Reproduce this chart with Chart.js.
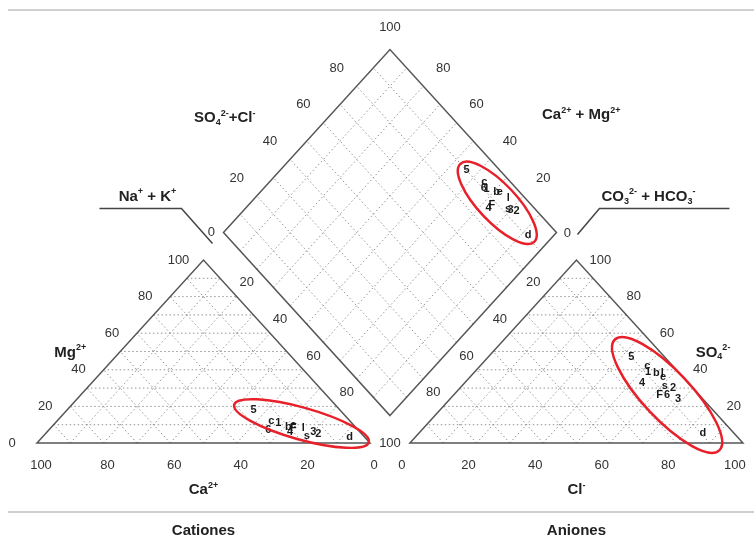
<!DOCTYPE html>
<html>
<head>
<meta charset="utf-8">
<script src="https://cdn.jsdelivr.net/npm/chart.js@4.4.0/dist/chart.umd.min.js"></script>
<style>
  html, body { margin: 0; padding: 0; background: #fff; }
  #wrap { width: 754px; height: 541px; position: relative; }
</style>
</head>
<body>
<div id="wrap"><canvas id="piper"></canvas></div>
<script>
// Sample labels (drawn as the marker of each sample)
const sampleIds = ["5", "c", "1", "l", "4", "6", "F", "s", "2", "3", "b", "e", "d"];

// Cations, % meq
const ca  = [26, 23.6, 22, 16, 21, 27, 19, 17, 13, 14, 20, 18, 4.5];
const mg  = [18, 12, 11, 8, 6, 7, 8, 4, 5, 6, 9, 10, 3.3];
const naK = [56, 64.4, 67, 76, 73, 66, 73, 79, 82, 80, 71, 72, 92.2];

// Anions, % meq
const hco3 = [10, 7.7, 9, 5, 13.8, 9.6, 11.8, 8, 6, 7.5, 7, 6, 9.3];
const so4  = [47, 42, 39, 38.5, 33, 26.4, 26.4, 31, 30, 24, 38, 36, 5.5];
const cl   = [43, 50.3, 52, 56.5, 53.2, 64, 61.8, 61, 64, 68.5, 55, 58, 85.2];

// Tick labels
const ticks = [0, 20, 40, 60, 80, 100];

// Piper layout in chart units (triangle side = 100)
const GAP = 12;          // between the two triangles
const R0 = 100 + GAP;    // x start of the anion triangle
const DB = 15;           // height of diamond's lower vertex
const DX = 100 + GAP / 2; // x of diamond's lower vertex

const catXY = (c, m, n) => ({ x: n + m / 2, y: m });
const anXY = (h, s, c) => ({ x: R0 + c + s / 2, y: s });
// a = SO4+Cl, c = Ca+Mg
const diaXY = (a, c) => ({ x: DX + 0.5 * a - 0.5 * c, y: DB + a + c });

const catPts = sampleIds.map((id, i) => catXY(ca[i], mg[i], naK[i]));
const anPts = sampleIds.map((id, i) => anXY(hco3[i], so4[i], cl[i]));
const diaPts = sampleIds.map((id, i) => diaXY(so4[i] + cl[i], ca[i] + mg[i]));

const FONT = '"Liberation Sans", Arial, Helvetica, sans-serif';

function richText(ctx, parts, x, y, size, align) {
  // parts: [text, mode] with mode "n", "sup" or "sub"
  const big = "bold " + size + "px " + FONT;
  const small = "bold " + Math.round(size * 0.62) + "px " + FONT;
  let w = 0;
  parts.forEach(p => { ctx.font = p[1] === "n" ? big : small; w += ctx.measureText(p[0]).width; });
  let cx = align === "left" ? x : x - w / 2;
  ctx.textAlign = "left";
  ctx.textBaseline = "middle";
  parts.forEach(p => {
    ctx.font = p[1] === "n" ? big : small;
    let dy = 0;
    if (p[1] === "sup") dy = -size * 0.32;
    if (p[1] === "sub") dy = size * 0.3;
    ctx.fillText(p[0], cx, y + dy);
    cx += ctx.measureText(p[0]).width;
  });
}

const piperFrame = {
  id: "piperFrame",
  beforeDatasetsDraw(chart) {
    const ctx = chart.ctx;
    const xs = chart.scales.x, ys = chart.scales.y;
    const P = (x, y) => [xs.getPixelForValue(x), ys.getPixelForValue(y)];
    const line = (a, b) => {
      const p = P(a.x, a.y), q = P(b.x, b.y);
      ctx.beginPath(); ctx.moveTo(p[0], p[1]); ctx.lineTo(q[0], q[1]); ctx.stroke();
    };
    const poly = pts => {
      ctx.beginPath();
      pts.forEach((pt, i) => { const p = P(pt.x, pt.y); i ? ctx.lineTo(p[0], p[1]) : ctx.moveTo(p[0], p[1]); });
      ctx.closePath(); ctx.stroke();
    };

    ctx.save();
    // separator rules
    ctx.strokeStyle = "#d0d0d0";
    ctx.lineWidth = 2;
    ctx.beginPath(); ctx.moveTo(8, 10); ctx.lineTo(754, 10); ctx.stroke();
    ctx.beginPath(); ctx.moveTo(8, 512); ctx.lineTo(754, 512); ctx.stroke();

    // dotted grid
    ctx.strokeStyle = "#8a8a8a";
    ctx.lineWidth = 0.9;
    ctx.setLineDash([1.5, 2.5]);
    for (let v = 10; v < 100; v += 10) {
      const w = 100 - v;
      // cation triangle
      line(catXY(0, v, 0), catXY(0, v, w));
      line(catXY(w, 0, v), catXY(0, w, v));
      line(catXY(v, 0, w), catXY(v, w, 0));
      // anion triangle
      line(anXY(0, v, w), anXY(w, v, 0));
      line(anXY(w, 0, v), anXY(0, w, v));
      line(anXY(v, 0, w), anXY(v, w, 0));
      // diamond
      line(diaXY(v, 0), diaXY(v, 100));
      line(diaXY(0, v), diaXY(100, v));
    }
    ctx.setLineDash([]);

    // outlines
    ctx.strokeStyle = "#555";
    ctx.lineWidth = 1.5;
    poly([catXY(100, 0, 0), catXY(0, 0, 100), catXY(0, 100, 0)]);
    poly([anXY(100, 0, 0), anXY(0, 0, 100), anXY(0, 100, 0)]);
    poly([diaXY(0, 0), diaXY(100, 0), diaXY(100, 100), diaXY(0, 100)]);

    // tick labels
    ctx.fillStyle = "#333";
    ctx.font = "13px " + FONT;
    ctx.textAlign = "center";
    ctx.textBaseline = "middle";
    const txt = (t, pt, dx, dy) => { const p = P(pt.x, pt.y); ctx.fillText(String(t), p[0] + dx, p[1] + dy); };
    ticks.forEach(v => {
      txt(v, catXY(v, 0, 100 - v), 4, 22);                  // Ca2+
      txt(v, catXY(100 - v, v, 0), -25, 0);                  // Mg2+
      txt(v, anXY(100 - v, 0, v), -8, 22);                   // Cl-
      txt(v, anXY(0, v, 100 - v), 24, 0);                    // SO4 2-
      if (v > 0 && v < 100) {
        const a = catXY(0, 100 - v, v), b = diaXY(0, 100 - v);   // Na+ + K+
        txt(v, { x: (a.x + b.x) / 2, y: (a.y + b.y) / 2 }, 0, 0);
        const c = anXY(v, 100 - v, 0), d = diaXY(100 - v, 0);    // CO3 + HCO3
        txt(v, { x: (c.x + d.x) / 2, y: (c.y + d.y) / 2 }, 0, 0);
        txt(v, diaXY(v, 100), -20, -18);                     // SO4 + Cl
        txt(v, diaXY(100, v), 20, -18);                      // Ca + Mg
      }
    });
    txt(100, diaXY(100, 100), 0, -22);
    txt(0, diaXY(0, 100), -12, 0);
    txt(0, diaXY(100, 0), 11, 1);
    txt(100, { x: DX, y: 0 }, 0, 0);

    // leader lines for the diamond titles
    const L = P(diaXY(0, 100).x, diaXY(0, 100).y);
    const Rt = P(diaXY(100, 0).x, diaXY(100, 0).y);
    ctx.strokeStyle = "#444";
    ctx.lineWidth = 1.5;
    ctx.beginPath();
    ctx.moveTo(L[0] - 124, L[1] - 24); ctx.lineTo(L[0] - 42, L[1] - 24); ctx.lineTo(L[0] - 11, L[1] + 11);
    ctx.stroke();
    ctx.beginPath();
    ctx.moveTo(Rt[0] + 173, Rt[1] - 24); ctx.lineTo(Rt[0] + 43, Rt[1] - 24); ctx.lineTo(Rt[0] + 21, Rt[1] + 2);
    ctx.stroke();

    // axis titles
    ctx.fillStyle = "#222";
    const at = (pt, dx, dy) => { const p = P(pt.x, pt.y); return [p[0] + dx, p[1] + dy]; };
    let q;
    q = at(diaXY(50, 100), -82, -23);
    richText(ctx, [["SO", "n"], ["4", "sub"], ["2-", "sup"], ["+Cl", "n"], ["-", "sup"]], q[0], q[1], 15, "center");
    q = at(diaXY(100, 50), 108, -26);
    richText(ctx, [["Ca", "n"], ["2+", "sup"], [" + Mg", "n"], ["2+", "sup"]], q[0], q[1], 15, "center");
    richText(ctx, [["Na", "n"], ["+", "sup"], [" + K", "n"], ["+", "sup"]], L[0] - 76, L[1] - 36, 15, "center");
    richText(ctx, [["CO", "n"], ["3", "sub"], ["2-", "sup"], [" + HCO", "n"], ["3", "sub"], ["-", "sup"]], Rt[0] + 45, Rt[1] - 36, 15, "left");
    q = at(catXY(50, 50, 0), -50, 1);
    richText(ctx, [["Mg", "n"], ["2+", "sup"]], q[0], q[1], 15, "center");
    q = at(catXY(50, 0, 50), 0, 47);
    richText(ctx, [["Ca", "n"], ["2+", "sup"]], q[0], q[1], 15, "center");
    q = at(anXY(0, 50, 50), 36, 1);
    richText(ctx, [["SO", "n"], ["4", "sub"], ["2-", "sup"]], q[0], q[1], 15, "left");
    q = at(anXY(50, 0, 50), 0, 47);
    richText(ctx, [["Cl", "n"], ["-", "sup"]], q[0], q[1], 15, "center");
    q = at(catXY(50, 0, 50), 0, 88);
    richText(ctx, [["Cationes", "n"]], q[0], q[1], 15, "center");
    q = at(anXY(50, 0, 50), 0, 88);
    richText(ctx, [["Aniones", "n"]], q[0], q[1], 15, "center");
    ctx.restore();
  },
  afterDatasetsDraw(chart) {
    const ctx = chart.ctx;
    ctx.save();
    const ellipse = [[20, 16], [24, 24], [9, 19]];
    chart.data.datasets.forEach((ds, di) => {
      const els = chart.getDatasetMeta(di).data;
      ctx.fillStyle = "#1a1a1a";
      ctx.font = "bold 11px " + FONT;
      ctx.textAlign = "center";
      ctx.textBaseline = "middle";
      els.forEach((el, i) => ctx.fillText(sampleIds[i], el.x, el.y));
      // red ellipse along the spread of the group
      const a = els[0], b = els[els.length - 1];
      const cx = (a.x + b.x) / 2, cy = (a.y + b.y) / 2;
      const rx = Math.hypot(b.x - a.x, b.y - a.y) / 2 + ellipse[di][0];
      ctx.strokeStyle = "#e8202a";
      ctx.lineWidth = 2.5;
      ctx.beginPath();
      ctx.ellipse(cx, cy, rx, ellipse[di][1], Math.atan2(b.y - a.y, b.x - a.x), 0, Math.PI * 2);
      ctx.stroke();
    });
    ctx.restore();
  }
};

const ctx = document.getElementById("piper").getContext("2d");
new Chart(ctx, {
  type: "scatter",
  data: {
    datasets: [
      { label: "Cationes", data: catPts, pointRadius: 0 },
      { label: "Aniones", data: anPts, pointRadius: 0 },
      { label: "Diamante", data: diaPts, pointRadius: 0 }
    ]
  },
  options: {
    responsive: true,
    maintainAspectRatio: false,
    animation: false,
    layout: { padding: 0 },
    scales: {
      x: { type: "linear", display: false, min: -11.11, max: 215.32 },
      y: { type: "linear", display: false, min: -53.55, max: 242.08 }
    },
    plugins: { legend: { display: false }, tooltip: { enabled: false } }
  },
  plugins: [piperFrame]
});
</script>
</body>
</html>
